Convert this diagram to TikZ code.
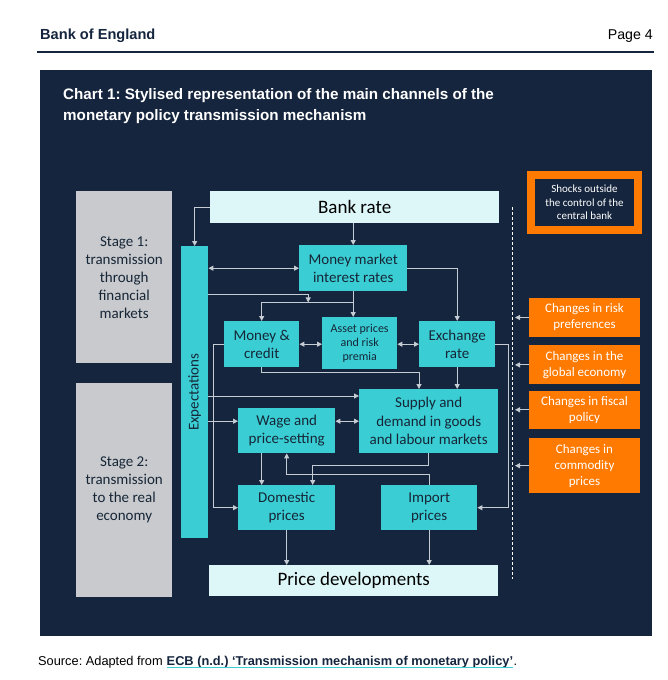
\documentclass[tikz,border=0pt]{standalone}
\usepackage{fontspec}
\usepackage{graphicx}
\setmainfont{Carlito}
\newfontfamily\arialfont{Liberation Sans}
\usetikzlibrary{positioning,arrows.meta}
\frenchspacing

\definecolor{navy}{RGB}{21,37,61}
\definecolor{boxcyan}{RGB}{58,206,212}
\definecolor{palecyan}{RGB}{221,246,248}
\definecolor{stagegray}{RGB}{201,202,205}
\definecolor{shockorange}{RGB}{255,122,0}
\definecolor{linegray}{RGB}{197,204,211}
\definecolor{boxtext}{RGB}{22,38,55}

\tikzset{
  chan/.style={fill=boxcyan, text=boxtext, align=center, inner sep=0pt, anchor=north west, font=\fontsize{15}{18.5}\selectfont},
  endbox/.style={fill=palecyan, text=black, inner sep=0pt, anchor=north west, minimum width=289pt, font=\fontsize{19}{22}\selectfont},
  stagebox/.style={fill=stagegray, text=boxtext, align=center, inner sep=0pt, anchor=north west, minimum width=96pt, font=\fontsize{15}{18}\selectfont},
  shockbox/.style={fill=shockorange, text=white, align=center, inner sep=0pt, minimum width=111pt, font=\fontsize{13}{16}\selectfont},
  arr/.style={draw=linegray, line width=1pt, -{Triangle[length=5pt,width=5pt]}},
  darr/.style={arr, {Triangle[length=5pt,width=5pt]}-{Triangle[length=5pt,width=5pt]}},
  srctext/.style={inner sep=0pt, text=black, font=\arialfont\fontsize{12.8}{15}\selectfont},
}

\begin{document}
\begin{tikzpicture}[x=1pt, y=-1pt]

  \useasboundingbox (0,0) rectangle (668,680);
  \fill[white] (0,0) rectangle (668,680);

  % Page header
  \node[anchor=west, inner sep=0pt, text=navy, font=\arialfont\bfseries\fontsize{14.6}{16}\selectfont] (org) at (40,36) {Bank of England};
  \node[anchor=east, inner sep=0pt, text=black, font=\arialfont\fontsize{14.2}{16}\selectfont] (page) at (653,36) {Page 4};
  \draw[navy, line width=1.5pt] (37,52) -- (654,52);

  % Chart panel
  \fill[navy] (40,70) rectangle (652,636);
  \node[anchor=west, inner sep=0pt, align=left, text=white, font=\arialfont\bfseries\fontsize{15.2}{21}\selectfont] (title) at (63,106.5)
    {Chart 1: Stylised representation of the main channels of the\\monetary policy transmission mechanism};

  % Define nodes
  \node[stagebox, minimum height=172pt] (st1) at (76,191) {Stage 1:\\transmission\\through\\financial\\markets};
  \node[stagebox, minimum height=214pt] (st2) at (76,383) {Stage 2:\\transmission\\to the real\\economy};

  \node[endbox, minimum height=32pt] (bank) at (210,191) {Bank rate};
  \node[chan, minimum width=27pt, minimum height=292pt] (exp) at (181,246) {\rotatebox{90}{Expectations}};
  \node[chan, minimum width=108pt, minimum height=46pt] (mm) at (299,245) {Money market\\interest rates};
  \node[chan, minimum width=75pt, minimum height=46pt] (mc) at (224,321) {Money \&\\credit};
  \node[chan, minimum width=75pt, minimum height=52pt, font=\fontsize{12}{14.3}\selectfont] (ap) at (322,317) {Asset prices\\and risk\\premia};
  \node[chan, minimum width=76pt, minimum height=46pt] (fx) at (419,321) {Exchange\\rate};
  \node[chan, minimum width=139pt, minimum height=64pt] (sd) at (359,389) {Supply and\\demand in goods\\and labour markets};
  \node[chan, minimum width=97pt, minimum height=45pt] (wp) at (238,408) {Wage and\\price-setting};
  \node[chan, minimum width=97pt, minimum height=45pt] (dp) at (238,485) {Domestic\\prices};
  \node[chan, minimum width=96pt, minimum height=45pt] (ip) at (381,485) {Import\\prices};
  \node[endbox, minimum height=31pt] (pd) at (209,565) {Price developments};

  \node[draw=shockorange, line width=8pt, fill=navy, text=white, align=center, inner sep=0pt,
        minimum width=107pt, minimum height=55pt, font=\fontsize{11}{13.5}\selectfont] (shock) at (584.5,202.5)
    {Shocks outside\\the control of the\\central bank};
  \node[shockbox, minimum height=39pt] (risk) at (584.5,317.5) {Changes in risk\\preferences};
  \node[shockbox, minimum height=39pt, below=8pt of risk] (glob) {Changes in the\\global economy};
  \node[shockbox, minimum height=38pt, below=6pt of glob] (fisc) {Changes in fiscal\\policy};
  \node[shockbox, minimum height=55pt, below=9pt of fisc] (comm) {Changes in\\commodity\\prices};

  \coordinate (dtop) at (512,207);
  \coordinate (dbot) at (512,579);
  \coordinate[below=11pt of mm.south] (fork);
  \coordinate[left=45pt of fork] (expjoin);
  \path (exp.east |- mm.south) ++(0,3) coordinate (expout);
  \path (exp.east |- sd.north) ++(0,7) coordinate (expsd);

  % Connect the nodes
  \draw[white, line width=1pt, dash pattern=on 3pt off 2pt] (dtop) -- (dbot);
  \draw[arr] (bank.west) -| (exp.north);
  \draw[arr] (mm.north |- bank.south) -- (mm.north);
  \draw[darr] (mm.west -| exp.east) -- (mm.west);
  \draw[arr] (mm.east) -| (fx.north);
  \draw[arr] (mm.south) -- (mm.south |- ap.north);
  \draw[arr] (fork) -| (mc.north);
  \draw[arr] (expout) -| (expjoin);
  \draw[darr] (mc.east) -- (mc.east -| ap.west);
  \draw[darr] (fx.west) -- (fx.west -| ap.east);
  \draw[arr] (mc.west) -- ++(-11,0) |- (dp.west);
  \draw[arr] (fx.east) -- ++(13,0) |- (ip.east);
  \draw[arr] (mc.south) -- ++(0,5) -| (fx.west |- sd.north);
  \draw[arr] (fx.south) -- (fx.south |- sd.north);
  \draw[arr] (expsd) -- (expsd -| sd.west);
  \draw[arr] (sd.west -| exp.east) -- (sd.west -| wp.west);
  \draw[darr] (sd.west -| wp.east) -- (sd.west);
  \draw[arr] (wp.south -| mc.south) -- (dp.north -| mc.south);
  \draw[arr] (sd.south) -- ++(0,12) -| ([xshift=26pt]dp.north);
  \draw[arr] (ip.north) -- ++(0,-11) -| (wp.south);
  \draw[arr] (dp.south) -- (dp.south |- pd.north);
  \draw[arr] (ip.south) -- (ip.south |- pd.north);
  \foreach \s in {risk,glob,fisc,comm}
    \draw[arr] (\s.west) -- ([xshift=3pt]\s.west -| dtop);

  % Source line
  \node[srctext, anchor=base west] (src) at (38,665) {Source: Adapted from};
  \node[srctext, anchor=base west, text=navy, font=\arialfont\bfseries\fontsize{12.8}{15}\selectfont] (ecb) at ([xshift=3.6pt]src.base east)
    {ECB (n.d.) ‘Transmission mechanism of monetary policy’};
  \node[srctext, anchor=base west] (dot) at (ecb.base east) {.};
  \draw[boxcyan, line width=1pt] ([yshift=-2.5pt]ecb.base west) -- ([yshift=-2.5pt]ecb.base east);

\end{tikzpicture}
\end{document}
